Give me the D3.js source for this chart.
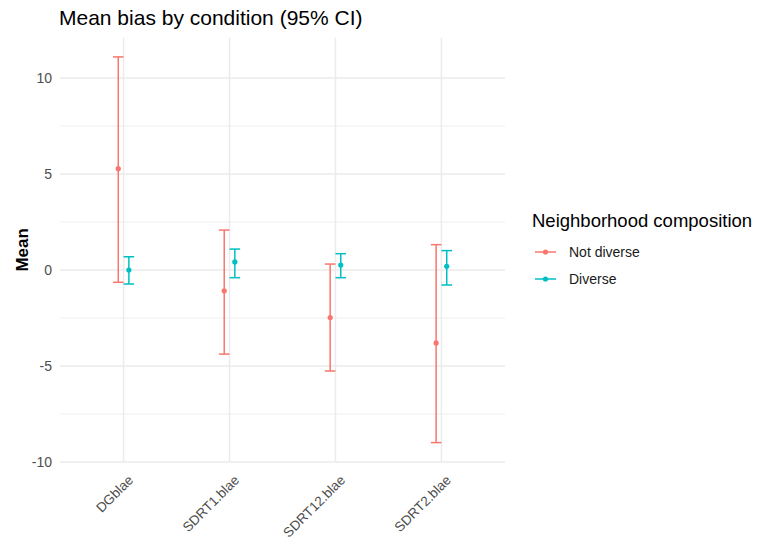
<!DOCTYPE html>
<html>
<head>
<meta charset="utf-8">
<script src="https://cdn.jsdelivr.net/npm/d3@7/dist/d3.min.js"></script>
<style>
  html, body { margin: 0; padding: 0; background: #fff; }
  svg { display: block; font-family: "Liberation Sans", Arial, sans-serif; }
</style>
</head>
<body>
<svg id="chart" width="761" height="539"></svg>
<script>
// Conditions on the x axis
const conditions = ["DGblae", "SDRT1.blae", "SDRT12.blae", "SDRT2.blae"];
const groups = ["Not diverse", "Diverse"];
const groupColors = ["#F8766D", "#00BFC4"];

// Mean and 95% CI bounds per condition
const notDiverseMean  = [5.28, -1.08, -2.48, -3.80];
const notDiverseLower = [-0.64, -4.38, -5.26, -8.99];
const notDiverseUpper = [11.10, 2.08, 0.31, 1.32];

const diverseMean  = [0.00, 0.42, 0.26, 0.19];
const diverseLower = [-0.73, -0.40, -0.40, -0.78];
const diverseUpper = [0.69, 1.09, 0.85, 1.01];

const majorTicks = [-10, -5, 0, 5, 10];
const minorTicks = [-7.5, -2.5, 2.5, 7.5];

const rows = [];
conditions.forEach((c, i) => {
  rows.push({ cond: c, group: groups[0], mean: notDiverseMean[i], lo: notDiverseLower[i], hi: notDiverseUpper[i] });
  rows.push({ cond: c, group: groups[1], mean: diverseMean[i], lo: diverseLower[i], hi: diverseUpper[i] });
});

const svg = d3.select("#chart");
const panel = { left: 60, right: 505, top: 37.7, bottom: 462 };

const x = d3.scalePoint().domain(conditions).range([panel.left, panel.right]).padding(0.6);
const y = d3.scaleLinear().domain([-10.0, 12.1]).range([panel.bottom, panel.top]);
const color = d3.scaleOrdinal().domain(groups).range(groupColors);
const dodge = d3.scalePoint().domain(groups).range([-5.3, 5.3]);

// grid
const grid = svg.append("g");
grid.selectAll("line.minor").data(minorTicks).join("line")
  .attr("x1", panel.left).attr("x2", panel.right)
  .attr("y1", d => y(d)).attr("y2", d => y(d))
  .attr("stroke", "#EBEBEB").attr("stroke-width", 0.8);
grid.selectAll("line.major").data(majorTicks).join("line")
  .attr("x1", panel.left).attr("x2", panel.right)
  .attr("y1", d => y(d)).attr("y2", d => y(d))
  .attr("stroke", "#EBEBEB").attr("stroke-width", 1.5);
grid.selectAll("line.vx").data(conditions).join("line")
  .attr("x1", d => x(d)).attr("x2", d => x(d))
  .attr("y1", panel.top).attr("y2", panel.bottom)
  .attr("stroke", "#EBEBEB").attr("stroke-width", 1.5);

// y axis labels (plain hyphen for negatives)
const yAxis = d3.axisLeft(y).tickValues(majorTicks).tickSize(0).tickPadding(8)
  .tickFormat(d => String(d));
const yg = svg.append("g").attr("transform", `translate(${panel.left},0)`).call(yAxis);
yg.select(".domain").remove();
yg.selectAll("text").attr("fill", "#4D4D4D").style("font-size", "14px")
  .style("font-family", "'Liberation Sans', Arial, sans-serif");

// x axis labels, rotated
const xAxis = d3.axisBottom(x).tickSize(0).tickPadding(0);
const xg = svg.append("g").attr("transform", `translate(0,${panel.bottom})`).call(xAxis);
xg.select(".domain").remove();
xg.selectAll("text")
  .attr("fill", "#4D4D4D").style("font-size", "13.5px")
  .style("font-family", "'Liberation Sans', Arial, sans-serif")
  .attr("text-anchor", "end")
  .attr("dy", "0")
  .attr("transform", "translate(10,19) rotate(-45)");

// error bars
const bars = svg.append("g").selectAll("g").data(rows).join("g")
  .attr("transform", d => `translate(${x(d.cond) + dodge(d.group)},0)`)
  .attr("stroke", d => color(d.group))
  .attr("fill", d => color(d.group));
bars.append("line").attr("x1", 0).attr("x2", 0)
  .attr("y1", d => y(d.lo)).attr("y2", d => y(d.hi)).attr("stroke-width", 1.5);
bars.append("line").attr("x1", -5.3).attr("x2", 5.3)
  .attr("y1", d => y(d.lo)).attr("y2", d => y(d.lo)).attr("stroke-width", 1.5);
bars.append("line").attr("x1", -5.3).attr("x2", 5.3)
  .attr("y1", d => y(d.hi)).attr("y2", d => y(d.hi)).attr("stroke-width", 1.5);
bars.append("circle").attr("cx", 0).attr("cy", d => y(d.mean)).attr("r", 2.6).attr("stroke", "none");

// title
svg.append("text").attr("x", 59).attr("y", 25)
  .attr("fill", "#000").style("font-size", "21px")
  .text("Mean bias by condition (95% CI)");

// y axis title
svg.append("text")
  .attr("transform", `translate(28,${(panel.top + panel.bottom) / 2}) rotate(-90)`)
  .attr("text-anchor", "middle").attr("fill", "#000")
  .style("font-size", "17px").style("font-weight", "bold")
  .text("Mean");

// legend
const legend = svg.append("g").attr("transform", "translate(532,0)");
legend.append("text").attr("x", 0).attr("y", 227)
  .attr("fill", "#000").style("font-size", "18.5px")
  .text("Neighborhood composition");
const items = legend.selectAll("g.item").data(groups).join("g")
  .attr("transform", (d, i) => `translate(0,${252 + i * 27})`);
items.append("line").attr("x1", 3).attr("x2", 24).attr("y1", 0).attr("y2", 0)
  .attr("stroke", d => color(d)).attr("stroke-width", 1.5);
items.append("circle").attr("cx", 13.5).attr("cy", 0).attr("r", 2.6).attr("fill", d => color(d));
items.append("text").attr("x", 37).attr("y", 0).attr("dy", "0.35em")
  .attr("fill", "#1a1a1a").style("font-size", "14px").text(d => d);
</script>
</body>
</html>
